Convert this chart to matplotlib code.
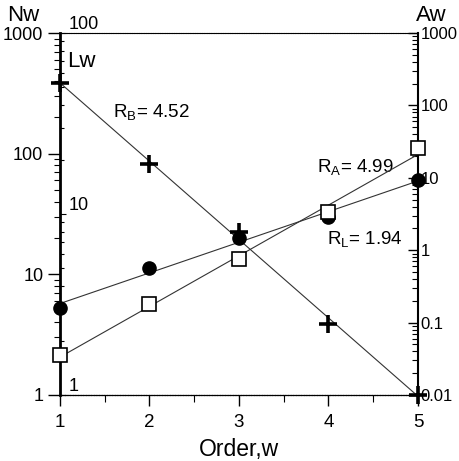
import numpy as np
import matplotlib
matplotlib.use("Agg")
import matplotlib.pyplot as plt
from matplotlib import font_manager
from matplotlib.ticker import LogLocator, NullFormatter, FixedLocator

plt.rcParams['font.family'] = ['Liberation Sans', 'DejaVu Sans']

# stream order
order = [1, 2, 3, 4, 5]
# number of streams (left axis)
nw = [385, 82, 22.4, 3.9, 1.0]
# mean stream length (inner axis)
lw = [3.03, 5.03, 7.36, 9.6, 15.4]
# mean basin area (right axis)
aw = [0.0356, 0.179, 0.747, 3.32, 26.1]

nw_ticks = [1, 10, 100, 1000]
lw_ticks = [1, 10, 100]
aw_ticks = [0.01, 0.1, 1, 10, 100, 1000]
aw_labels = ['0.01', '0.1', '1', '10', '100', '1000']

# condensed face for the ratio labels if there is one
try:
    font_manager.findfont('Liberation Sans Narrow', fallback_to_default=False)
    nar, nar_size = 'Liberation Sans Narrow', 16
except Exception:
    nar, nar_size = 'Liberation Sans', 13.5
plt.rcParams['mathtext.fontset'] = 'custom'
plt.rcParams['mathtext.rm'] = nar


def fit_line(x, y):
    # regression in log space, drawn across the order range
    k, b = np.polyfit(x, np.log10(y), 1)
    xs = np.array([min(x), max(x)])
    return xs, 10 ** (k * xs + b)


fig = plt.figure(figsize=(4.6, 4.61), dpi=100)
ax = fig.add_axes([0.1304, 0.1432, 0.7783, 0.7852])

# Nw on the left axis
ax.set_yscale('log')
ax.set_xlim(1, 5)
ax.set_ylim(1, 1000)
xs, ys = fit_line(order, nw)
ax.plot(xs, ys, color='#333333', lw=0.8)
ax.plot(order, nw, '+', color='black', ms=13, mew=2.6, clip_on=False, zorder=5)
ax.set_yticks(nw_ticks)
ax.set_yticklabels([str(t) for t in nw_ticks])
ax.yaxis.set_minor_locator(LogLocator(base=10, subs=np.arange(2, 10)))
ax.yaxis.set_minor_formatter(NullFormatter())
ax.tick_params(axis='y', which='major', direction='out', length=9, width=1.0, labelsize=13, pad=3)
ax.tick_params(axis='y', which='minor', direction='out', length=4, width=0.8)
ax.set_xticks(order)
ax.xaxis.set_minor_locator(FixedLocator([1.5, 2.5, 3.5, 4.5]))
ax.tick_params(axis='x', which='major', direction='out', length=8, width=1.0, labelsize=13.5, pad=6)
ax.tick_params(axis='x', which='minor', direction='out', length=5, width=0.8)
ax.set_xlabel('Order,w', fontsize=16.5, labelpad=5)
ax.spines['left'].set_linewidth(2.0)
ax.spines['bottom'].set_linewidth(0.9)
ax.spines['top'].set_linewidth(0.8)
ax.spines['top'].set_linestyle((0, (1.5, 0.6)))
ax.spines['bottom'].set_linestyle((0, (1.5, 0.6)))
ax.spines['right'].set_visible(False)

# Lw on an inner axis along the left spine
axl = ax.twinx()
axl.set_yscale('log')
axl.set_ylim(1, 100)
xs, ys = fit_line(order, lw)
axl.plot(xs, ys, color='#333333', lw=0.8)
axl.plot(order, lw, 'o', color='black', ms=9.5, clip_on=False, zorder=5)
axl.spines['right'].set_position(('axes', 0))
for s in ['left', 'right', 'top', 'bottom']:
    axl.spines[s].set_visible(False)
axl.set_yticks(lw_ticks)
axl.set_yticklabels([str(t) for t in lw_ticks])
axl.yaxis.set_minor_locator(LogLocator(base=10, subs=np.arange(2, 10)))
axl.yaxis.set_minor_formatter(NullFormatter())
axl.tick_params(axis='y', which='major', direction='out', length=4, width=0.8, labelsize=13, pad=2)
axl.tick_params(axis='y', which='minor', direction='out', length=3, width=0.8)
plt.setp(axl.get_yticklabels(), va='bottom')

# Aw on the right axis
axr = ax.twinx()
axr.set_yscale('log')
axr.set_ylim(0.01, 1000)
xs, ys = fit_line(order, aw)
axr.plot(xs, ys, color='#333333', lw=0.8)
axr.plot(order, aw, 's', mfc='white', mec='black', ms=9.5, mew=1.2, clip_on=False, zorder=6)
for s in ['left', 'top', 'bottom']:
    axr.spines[s].set_visible(False)
axr.spines['right'].set_linewidth(1.5)
axr.set_yticks(aw_ticks)
axr.set_yticklabels(aw_labels)
axr.yaxis.set_minor_locator(LogLocator(base=10, subs=np.arange(2, 10)))
axr.yaxis.set_minor_formatter(NullFormatter())
axr.tick_params(axis='y', which='major', direction='in', length=7, width=1.0, labelsize=12, pad=2)
axr.tick_params(axis='y', which='minor', direction='in', length=4, width=0.8)

# axis titles
fig.text(0.05, 0.967, 'Nw', fontsize=16, ha='center', va='center')
fig.text(0.937, 0.967, 'Aw', fontsize=16, ha='center', va='center')
fig.text(0.176, 0.866, 'Lw', fontsize=16, ha='center', va='center')

# ratios
ax.text(0.148, 0.751, r'R$_\mathregular{B}$= 4.52', transform=ax.transAxes, fontsize=nar_size,
        family=nar, ha='left', va='bottom')
ax.text(0.718, 0.599, r'R$_\mathregular{A}$= 4.99', transform=ax.transAxes, fontsize=nar_size,
        family=nar, ha='left', va='bottom')
ax.text(0.746, 0.40, r'R$_\mathregular{L}$= 1.94', transform=ax.transAxes, fontsize=nar_size,
        family=nar, ha='left', va='bottom')

fig.savefig('out.png', dpi=100)
